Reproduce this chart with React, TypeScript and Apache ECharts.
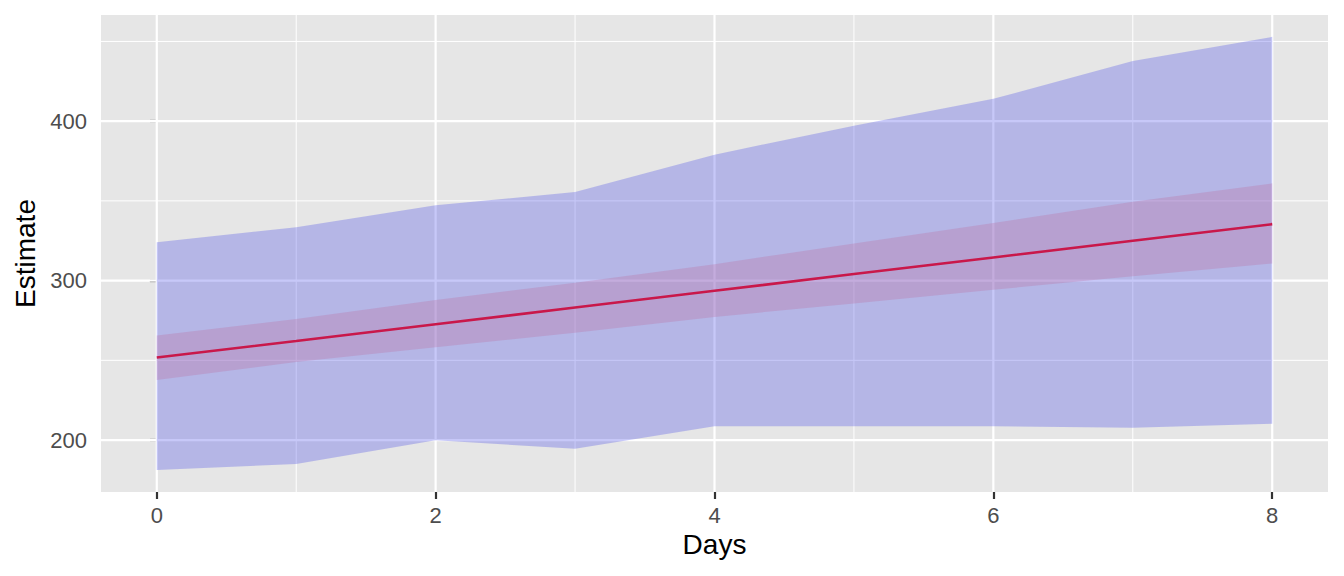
import React, { useEffect, useRef } from "react";
import * as echarts from "echarts";

const days = [0, 1, 2, 3, 4, 5, 6, 7, 8];
const estimate = [251.8, 262.1, 272.6, 283.1, 293.6, 304.1, 314.5, 325.0, 335.4];
const innerUpper = [265.6, 275.9, 287.8, 298.6, 310.3, 323.3, 336.2, 349.5, 361.0];
const innerLower = [237.6, 248.9, 258.2, 267.3, 277.2, 285.7, 294.2, 302.8, 310.7];
const outerUpper = [324.0, 333.5, 347.2, 355.5, 379.0, 397.2, 414.0, 437.7, 452.9];
const outerLower = [181.2, 185.0, 199.8, 194.6, 208.6, 208.7, 208.7, 207.7, 210.2];

const xTicks = [0, 2, 4, 6, 8];
const yTicks = [200, 300, 400];
const xMinor = [1, 3, 5, 7];
const yMinor = [250, 350, 450];

const X_MIN = -0.4;
const X_MAX = 8.4;
const Y_MIN = 167.4;
const Y_MAX = 466.6;

const FONT = "'Liberation Sans', Arial, Helvetica, sans-serif";

function bandSeries(upper: number[], lower: number[], fill: string, z: number) {
  return {
    type: "custom",
    coordinateSystem: "cartesian2d",
    silent: true,
    z,
    data: [[days[0], upper[0]]],
    renderItem: (params: any, api: any) => {
      const pts: number[][] = [];
      for (let i = 0; i < days.length; i++) pts.push(api.coord([days[i], upper[i]]));
      for (let i = days.length - 1; i >= 0; i--) pts.push(api.coord([days[i], lower[i]]));
      return { type: "polygon", shape: { points: pts }, style: { fill } };
    },
  };
}

function gridSeries(values: number[], horizontal: boolean, width: number) {
  return {
    type: "custom",
    coordinateSystem: "cartesian2d",
    silent: true,
    z: 1,
    data: values.map((v) => (horizontal ? [X_MIN, v] : [v, Y_MIN])),
    renderItem: (params: any, api: any) => {
      const v = values[params.dataIndex];
      const a = horizontal ? api.coord([X_MIN, v]) : api.coord([v, Y_MIN]);
      const b = horizontal ? api.coord([X_MAX, v]) : api.coord([v, Y_MAX]);
      return {
        type: "line",
        shape: { x1: a[0], y1: a[1], x2: b[0], y2: b[1] },
        style: { stroke: "#FFFFFF", lineWidth: width },
      };
    },
  };
}

export default function App() {
  const ref = useRef<HTMLDivElement>(null);
  useEffect(() => {
    if (!ref.current) return;
    const chart = echarts.init(ref.current, null, { renderer: "svg" });
    chart.setOption({
      animation: false,
      backgroundColor: "#FFFFFF",
      grid: {
        left: 101,
        top: 15,
        width: 1227,
        height: 477,
        show: true,
        backgroundColor: "#E6E6E6",
        borderWidth: 0,
      },
      xAxis: {
        type: "value",
        min: X_MIN,
        max: X_MAX,
        name: "Days",
        nameLocation: "middle",
        nameGap: 38,
        nameTextStyle: { color: "#000000", fontSize: 28, fontFamily: FONT },
        axisLine: { show: false },
        splitLine: { show: false },
        axisTick: {
          show: true,
          customValues: xTicks,
          length: 7,
          lineStyle: { color: "#333333", width: 2.2 },
        },
        axisLabel: {
          customValues: xTicks,
          color: "#4D4D4D",
          fontSize: 22,
          fontFamily: FONT,
          margin: 12,
        },
      },
      yAxis: {
        type: "value",
        min: Y_MIN,
        max: Y_MAX,
        name: "Estimate",
        nameLocation: "middle",
        nameGap: 62,
        nameRotate: 90,
        nameTextStyle: { color: "#000000", fontSize: 28, fontFamily: FONT },
        axisLine: { show: false },
        splitLine: { show: false },
        axisTick: {
          show: true,
          customValues: yTicks,
          length: 7,
          lineStyle: { color: "#333333", width: 2.2 },
        },
        axisLabel: {
          customValues: yTicks,
          color: "#4D4D4D",
          fontSize: 22,
          fontFamily: FONT,
          margin: 14,
        },
      },
      series: [
        gridSeries(yMinor, true, 1),
        gridSeries(xMinor, false, 1),
        gridSeries(yTicks, true, 2.2),
        gridSeries(xTicks, false, 2.2),
        bandSeries(outerUpper, outerLower, "rgba(70,72,232,0.30)", 2),
        bandSeries(innerUpper, innerLower, "rgba(190,110,160,0.30)", 3),
        {
          type: "line",
          z: 5,
          silent: true,
          showSymbol: false,
          data: days.map((d, i) => [d, estimate[i]]),
          lineStyle: { color: "#C9184A", width: 2.6 },
        },
      ],
    });

    return () => chart.dispose();
  }, []);
  return (
    <div
      ref={ref}
      style={{ position: "absolute", left: 0, top: 0, width: 1344, height: 576 }}
    />
  );
}
